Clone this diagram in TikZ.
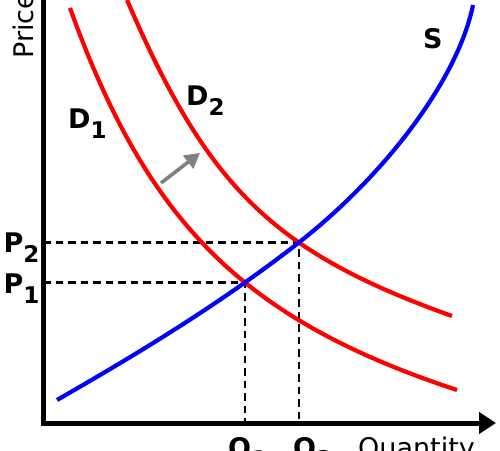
\documentclass[tikz,border=0pt]{standalone}
\usepackage{fontspec}
\setmainfont{DejaVu Sans}
\usetikzlibrary{arrows.meta,intersections}
\newcommand{\sublab}[2]{#1\raisebox{-10pt}{\fontsize{23}{23}\selectfont #2}}
\begin{document}
\begin{tikzpicture}[x=1pt,y=-1pt,
  lab/.style={font=\fontsize{27}{30}\selectfont\bfseries, inner sep=0pt, anchor=base west},
  axlab/.style={font=\fontsize{27}{30}\selectfont, inner sep=0pt, anchor=base west},
  axis/.style={line width=5pt, line join=miter, -{Triangle[length=17pt,width=21pt]}},
  dem/.style={draw=red, line width=4.2pt},
  supply/.style={draw=blue, line width=4.2pt},
  guide/.style={line width=2.8pt, dash pattern=on 7.5pt off 5pt},
  shift arrow/.style={draw={rgb,255:red,128;green,128;blue,128}, line width=3.6pt, -{Triangle[length=15pt,width=16pt]}}
]
\clip (0,0) rectangle (500,450);
\useasboundingbox (0,0) rectangle (500,450);

% axes
\coordinate (top) at (43,-10);
\coordinate (origin) at (43,423);
\coordinate (xend) at (496,423);
\draw[axis] (top) -- (origin) -- (xend);

% curves
\coordinate (D1s) at (70,8);   \coordinate (D1e) at (457,390);
\coordinate (D2s) at (127,0);  \coordinate (D2e) at (452,316);
\coordinate (Ss) at (57,400);  \coordinate (Sm) at (297,244); \coordinate (Se) at (473,5);
\path[name path=d1] (D1s) .. controls (148,225) and (245,320) .. (D1e);
\path[name path=d2] (D2s) .. controls (208,188) and (273,252) .. (D2e);
\path[name path=s] (Ss) .. controls (137,354) and (217,306) .. (Sm)
   .. controls (388,173) and (458.5,77) .. (Se);

\path[name intersections={of=d1 and s, by=E1}];
\path[name intersections={of=d2 and s, by=E2}];

% guide lines
\draw[guide] (origin |- E1) -- (E1) -- (E1 |- origin);
\draw[guide] (origin |- E2) -- (E2) -- (E2 |- origin);

\draw[dem] (D1s) .. controls (148,225) and (245,320) .. (D1e);
\draw[dem] (D2s) .. controls (208,188) and (273,252) .. (D2e);
\draw[supply] (Ss) .. controls (137,354) and (217,306) .. (Sm)
   .. controls (388,173) and (458.5,77) .. (Se);

% shift arrow
\coordinate (arrA) at (161,183);
\coordinate (arrB) at (200,153);
\draw[shift arrow] (arrA) -- (arrB);

% labels
\node[lab] (D1) at (68,128) {\sublab{D}{1}};
\node[lab] (D2) at (186,105) {\sublab{D}{2}};
\node[lab] (S) at (423,48) {S};
\node[lab] (P2) at (3.5,252) {\sublab{P}{2}};
\node[lab] (P1) at (3.5,293) {\sublab{P}{1}};
\node[lab] (Q1) at (228,457) {\sublab{Q}{1}};
\node[lab] (Q2) at (293,457) {\sublab{Q}{2}};
\node[axlab] (Qty) at (358,457) {Quantity};
\node[axlab, rotate=90] (Price) at (33,59) {Price};
\end{tikzpicture}
\end{document}
